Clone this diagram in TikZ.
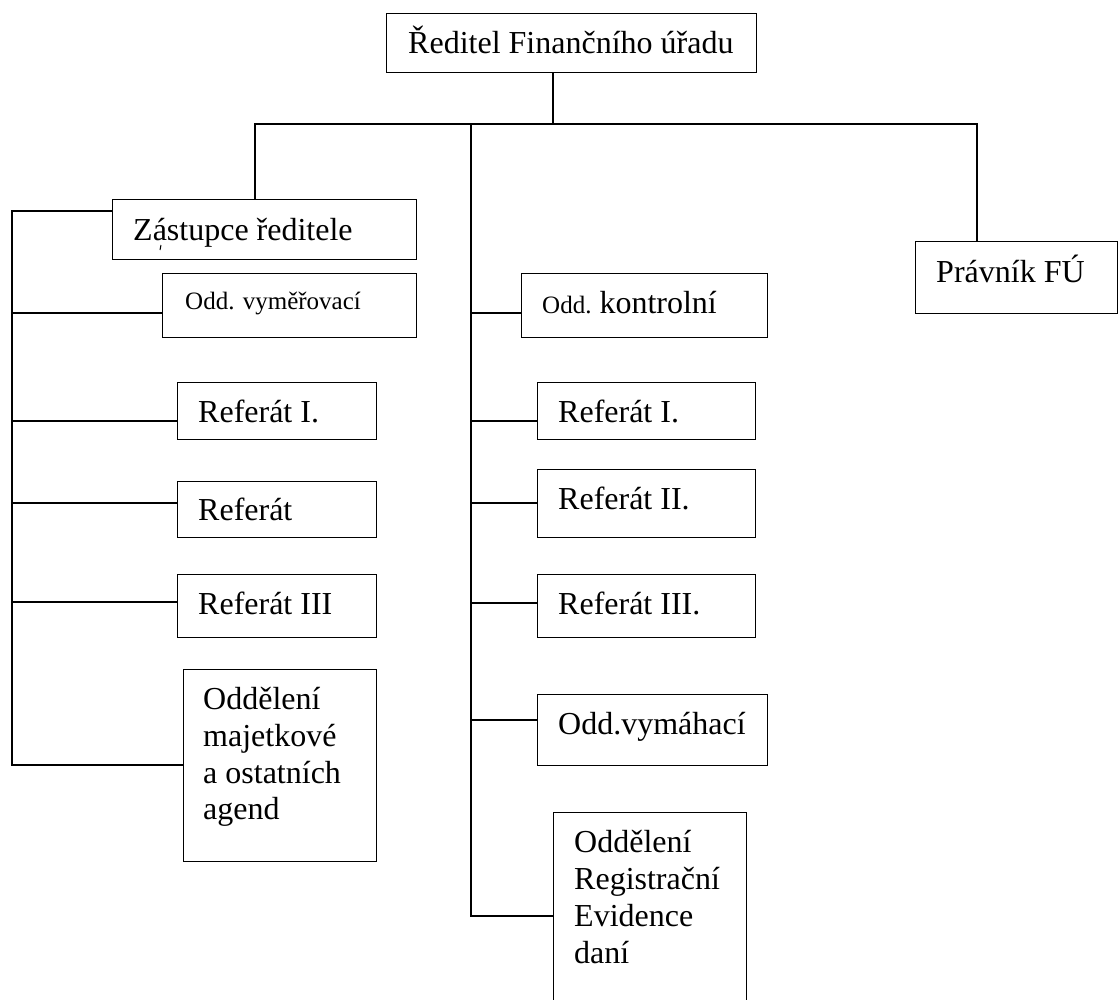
\documentclass[tikz,border=0pt]{standalone}
\usepackage{fontspec}
\setmainfont{Liberation Serif}
\begin{document}
\begin{tikzpicture}[x=1pt,y=-1pt,
  box/.style={draw, line width=1.3pt, inner sep=0pt, anchor=north west},
  txt/.style={anchor=base west, inner sep=0pt, font=\fontsize{32}{37}\selectfont},
  smalltxt/.style={anchor=base west, inner sep=0pt, font=\fontsize{25}{30}\selectfont},
  link/.style={line width=1.3pt}]
\useasboundingbox (0,0) rectangle (1119,999);
\clip (0,0) rectangle (1119,999);

% boxes
\node[box, minimum width=370pt, minimum height=59pt] (dir) at (386,13) {};
\node[box, minimum width=304pt, minimum height=60pt] (zast) at (112,199) {};
\node[box, minimum width=254pt, minimum height=64pt] (vym) at (162,273) {};
\node[box, minimum width=199pt, minimum height=57pt] (lr1) at (177,382) {};
\node[box, minimum width=199pt, minimum height=56pt] (lr2) at (177,481) {};
\node[box, minimum width=199pt, minimum height=63pt] (lr3) at (177,574) {};
\node[box, minimum width=193pt, minimum height=192pt] (maj) at (183,669) {};
\node[box, minimum width=246pt, minimum height=64pt] (kon) at (521,273) {};
\node[box, minimum width=218pt, minimum height=57pt] (mr1) at (537,382) {};
\node[box, minimum width=218pt, minimum height=68pt] (mr2) at (537,469) {};
\node[box, minimum width=218pt, minimum height=63pt] (mr3) at (537,574) {};
\node[box, minimum width=230pt, minimum height=71pt] (vmh) at (537,694) {};
\node[box, minimum width=193pt, minimum height=200pt] (reg) at (553,812) {};
\node[box, minimum width=202pt, minimum height=72pt] (prav) at (915,241) {};

% texts
\node[txt] (tdir) at (408,53) {Ředitel Finančního úřadu};
\node[txt] (tzast) at (133,240) {Zástupce ředitele};
\draw[line width=1pt] (161,245) -- (160,250);
\node[smalltxt] (tvym) at (185,309) {Odd. vyměřovací};
\node[txt] (tlr1) at (198,422) {Referát I.};
\node[txt] (tlr2) at (198,520) {Referát};
\node[txt] (tlr3) at (198,614) {Referát III};
\node[txt] (tmaj1) at (203,709) {Oddělení};
\node[txt] (tmaj2) at (203,746) {majetkové};
\node[txt] (tmaj3) at (203,783) {a ostatních};
\node[txt] (tmaj4) at (203,819) {agend};
\node[smalltxt] (tkon) at (542,313) {Odd.\fontsize{32}{37}\selectfont\ kontrolní};
\node[txt] (tmr1) at (558,422) {Referát I.};
\node[txt] (tmr2) at (558,509) {Referát II.};
\node[txt] (tmr3) at (558,614) {Referát III.};
\node[txt] (tvmh) at (558,734) {Odd.vymáhací};
\node[txt] (treg1) at (574,852) {Oddělení};
\node[txt] (treg2) at (574,889) {Registrační};
\node[txt] (treg3) at (574,926) {Evidence};
\node[txt] (treg4) at (574,963) {daní};
\node[txt] (tprav) at (936,282) {Právník FÚ};

% junction coordinates
\coordinate (j0) at (553,124);
\coordinate (jL) at (255,124);
\coordinate (jM) at (471,124);
\coordinate (jR) at (977,124);
\coordinate (lT) at (12,211);
\coordinate (lB) at (12,765);
\coordinate (l1) at (12,313);
\coordinate (l2) at (12,421);
\coordinate (l3) at (12,503);
\coordinate (l4) at (12,602);
\coordinate (m1) at (471,313);
\coordinate (m2) at (471,421);
\coordinate (m3) at (471,503);
\coordinate (m4) at (471,603);
\coordinate (m5) at (471,720);
\coordinate (mB) at (471,916);

% connectors
\draw[link] (dir.south -| j0) -- (j0);
\draw[link] (zast.north -| jL) -- (jL) -- (jR) -- (prav.north -| jR);
\draw[link] (jM) -- (mB) -- (reg.west |- mB);
\draw[link] (zast.west |- lT) -- (lT) -- (lB) -- (maj.west |- lB);
\draw[link] (l1) -- (vym.west |- l1);
\draw[link] (l2) -- (lr1.west |- l2);
\draw[link] (l3) -- (lr2.west |- l3);
\draw[link] (l4) -- (lr3.west |- l4);
\draw[link] (m1) -- (kon.west |- m1);
\draw[link] (m2) -- (mr1.west |- m2);
\draw[link] (m3) -- (mr2.west |- m3);
\draw[link] (m4) -- (mr3.west |- m4);
\draw[link] (m5) -- (vmh.west |- m5);
\end{tikzpicture}
\end{document}
